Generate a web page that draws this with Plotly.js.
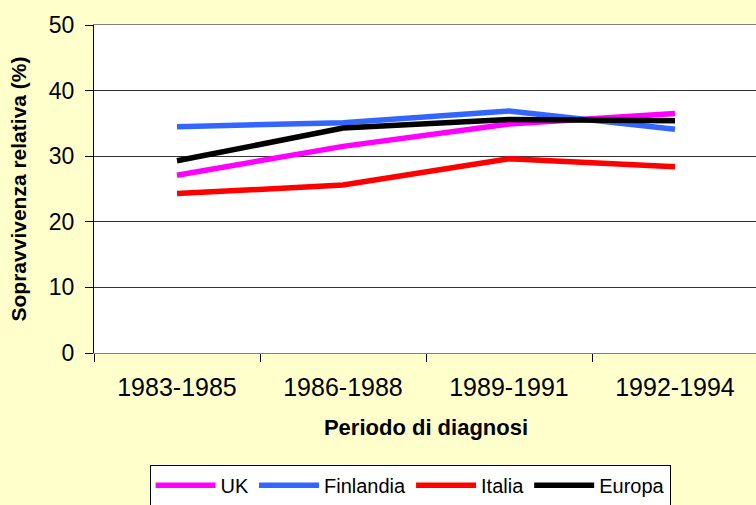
<!DOCTYPE html>
<html>
<head>
<meta charset="utf-8">
<script src="https://cdn.plot.ly/plotly-3.0.1.min.js"></script>
<style>
html, body { margin: 0; padding: 0; overflow: hidden; background: #FFFFCC; }
#chart { width: 770px; height: 505px; }
</style>
</head>
<body>
<div id="chart"></div>
<script>
const periods = ["1983-1985", "1986-1988", "1989-1991", "1992-1994"];
const seriesNames = ["UK", "Finlandia", "Italia", "Europa"];
const ukValues = [27.1, 31.5, 34.9, 36.5];
const finlandiaValues = [34.5, 35.1, 36.9, 34.1];
const italiaValues = [24.3, 25.6, 29.6, 28.4];
const europaValues = [29.3, 34.3, 35.6, 35.4];
const yTickValues = [0, 10, 20, 30, 40, 50];
const colors = ["#FF00FF", "#3366FF", "#FF0000", "#000000"];

const allValues = [ukValues, finlandiaValues, italiaValues, europaValues];
const traces = allValues.map((vals, i) => ({
  type: "scatter",
  mode: "lines",
  name: seriesNames[i],
  x: periods,
  y: vals,
  line: { color: colors[i], width: 5.5 }
}));

const fam = "Liberation Sans, Arial, sans-serif";
const layout = {
  width: 770,
  height: 505,
  paper_bgcolor: "#FFFFCC",
  plot_bgcolor: "#FFFFFF",
  margin: { l: 94, r: 12, t: 25, b: 152, autoexpand: false },
  font: { family: fam, color: "#000000" },
  showlegend: true,
  xaxis: {
    type: "category",
    range: [-0.5, 3.5],
    tickson: "boundaries",
    ticks: "outside",
    ticklen: 8,
    tickcolor: "#000000",
    ticklabelstandoff: 12,
    showgrid: false,
    showline: true,
    linecolor: "#808080",
    linewidth: 1,
    mirror: true,
    zeroline: false,
    tickfont: { size: 25, family: fam },
    title: { text: "Periodo di diagnosi", font: { size: 22, family: fam, weight: "bold" }, standoff: 19 },
    automargin: false,
    fixedrange: true
  },
  yaxis: {
    range: [0, 50],
    tickvals: yTickValues,
    ticks: "outside",
    ticklen: 8,
    tickcolor: "#000000",
    ticklabelstandoff: 6,
    showgrid: true,
    gridcolor: "#333333",
    gridwidth: 1,
    showline: true,
    linecolor: "#000000",
    linewidth: 1,
    mirror: false,
    zeroline: false,
    tickfont: { size: 23, family: fam },
    title: { text: "Sopravvivenza relativa (%)", font: { size: 21, family: fam, weight: "bold" }, standoff: 16 },
    automargin: false,
    fixedrange: true
  },
  legend: {
    orientation: "h",
    x: 0.476,
    xanchor: "center",
    y: -0.341,
    yanchor: "top",
    bgcolor: "#FFFFFF",
    bordercolor: "#000000",
    borderwidth: 1,
    font: { size: 20, family: fam },
    itemwidth: 60,
    tracegroupgap: 0
  }
};

Plotly.newPlot("chart", traces, layout, { displayModeBar: false, staticPlot: true });
</script>
</body>
</html>
